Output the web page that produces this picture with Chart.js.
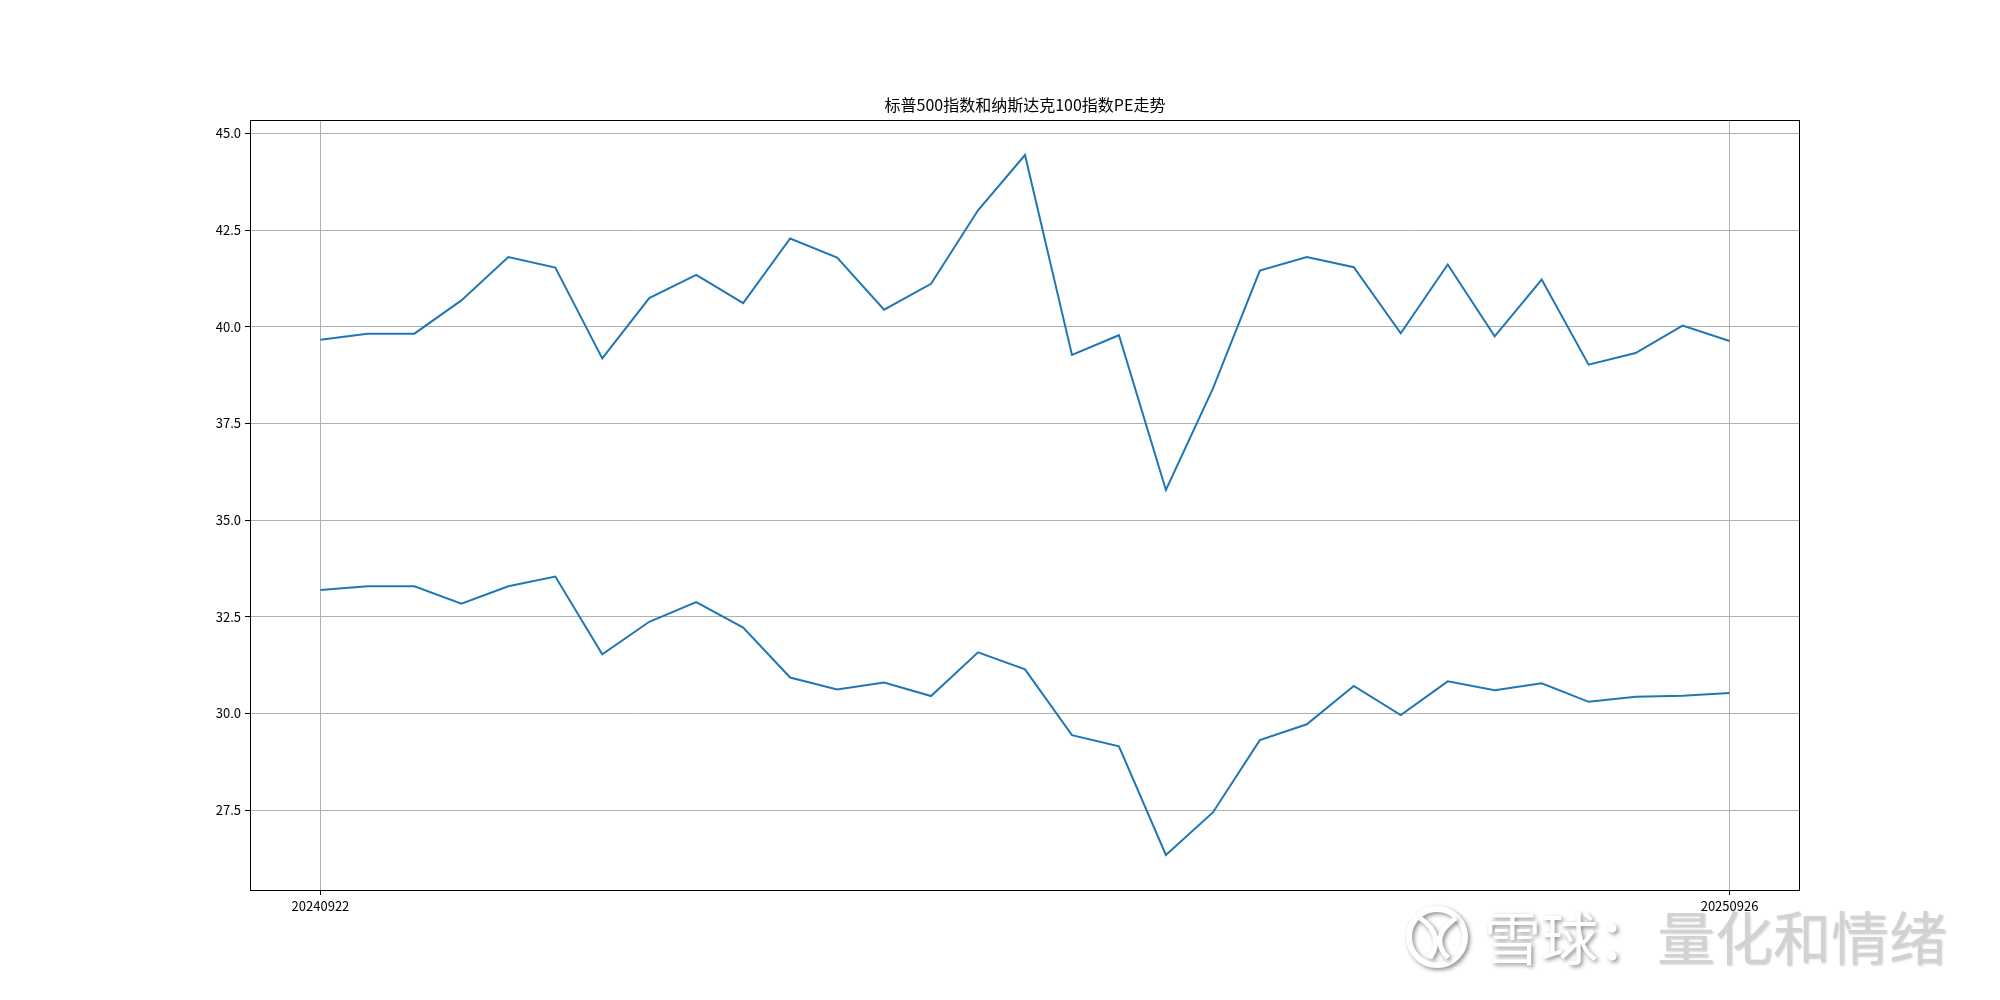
<!DOCTYPE html>
<html lang="zh">
<head>
<meta charset="utf-8">
<title>标普500指数和纳斯达克100指数PE走势</title>
<script src="https://cdn.jsdelivr.net/npm/chart.js@4"></script>
<style>
    html, body { margin: 0; padding: 0; background: #fff; }
    #pe-chart { display: block; }
</style>
</head>
<body>
<canvas id="pe-chart" width="2000" height="1000"></canvas>
<script>
/* =====================================================
   标普500 / 纳斯达克100 PE 走势
   ===================================================== */

// x ticks: only first and last date are labelled on the chart
const xTickLabels = ['20240922', '20250926'];

// upper line (纳斯达克100 PE)
const ndxPE = [
    39.66, 39.82, 39.82, 40.68, 41.80, 41.53, 39.18, 40.74, 41.34, 40.61,
    42.28, 41.79, 40.44, 41.11, 43.01, 44.44, 39.27, 39.78, 35.78, 38.40,
    41.45, 41.80, 41.54, 39.83, 41.61, 39.75, 41.22, 39.02, 39.32, 40.03,
    39.63
];

// lower line (标普500 PE)
const spxPE = [
    33.19, 33.29, 33.29, 32.84, 33.29, 33.54, 31.53, 32.37, 32.88, 32.22,
    30.93, 30.62, 30.80, 30.45, 31.58, 31.14, 29.44, 29.15, 26.34, 27.44,
    29.31, 29.72, 30.71, 29.96, 30.83, 30.60, 30.78, 30.30, 30.43, 30.46,
    30.53
];

const yTickStep = 2.5;

const FONT = '"Noto Sans CJK SC", "Noto Sans", sans-serif';
const LINE_COLOR = '#1f77b4';
const GRID_COLOR = '#b0b0b0';

// matplotlib-like 5% margins around the data
function paddedRange(lo, hi) {
    const pad = (hi - lo) * 0.05;
    return [lo - pad, hi + pad];
}

const allValues = ndxPE.concat(spxPE);
const [yMin, yMax] = paddedRange(Math.min(...allValues), Math.max(...allValues));
const [xMin, xMax] = paddedRange(0, ndxPE.length - 1);

const toPoints = arr => arr.map((v, i) => ({ x: i, y: v }));

// title, frame and the watermark
const decorPlugin = {
    id: 'decor',
    afterDatasetsDraw(chart) {
        const { ctx, chartArea: a } = chart;
        ctx.save();
        ctx.strokeStyle = '#000';
        ctx.lineWidth = 1;
        ctx.strokeRect(a.left + 0.5, a.top + 0.5, a.right - a.left - 1, a.bottom - a.top);

        ctx.fillStyle = '#000';
        ctx.font = '16px ' + FONT;
        ctx.textAlign = 'center';
        ctx.textBaseline = 'alphabetic';
        ctx.fillText('标普500指数和纳斯达克100指数PE走势', (a.left + a.right) / 2, a.top - 9);
        ctx.restore();
    },
    afterDraw(chart) {
        const ctx = chart.ctx;
        ctx.save();

        // logo
        ctx.shadowColor = 'rgba(0,0,0,0.45)';
        ctx.shadowBlur = 4;
        ctx.shadowOffsetX = 2;
        ctx.shadowOffsetY = 2;
        ctx.strokeStyle = '#fff';
        ctx.lineWidth = 6;
        ctx.beginPath();
        ctx.arc(1437, 937, 28, 0, Math.PI * 2);
        ctx.stroke();
        ctx.lineWidth = 5;
        ctx.beginPath();
        ctx.moveTo(1420, 918);
        ctx.quadraticCurveTo(1445, 935, 1430, 958);
        ctx.moveTo(1456, 918);
        ctx.quadraticCurveTo(1428, 937, 1448, 958);
        ctx.stroke();

        ctx.font = '57px ' + FONT;
        ctx.textAlign = 'left';
        ctx.textBaseline = 'middle';
        ctx.fillStyle = '#fff';
        ctx.fillText('雪球：', 1484, 938);

        ctx.shadowColor = 'rgba(0,0,0,0.18)';
        ctx.shadowBlur = 2;
        ctx.shadowOffsetX = 1;
        ctx.shadowOffsetY = 1;
        ctx.fillStyle = '#d2d2d2';
        ctx.font = '58px ' + FONT;
        ctx.fillText('量化和情绪', 1657, 938);
        ctx.restore();
    }
};

const chart = new Chart(document.getElementById('pe-chart'), {
    type: 'line',
    data: {
        datasets: [
            {
                data: toPoints(ndxPE),
                borderColor: LINE_COLOR,
                borderWidth: 2,
                pointRadius: 0,
                tension: 0,
                fill: false
            },
            {
                data: toPoints(spxPE),
                borderColor: LINE_COLOR,
                borderWidth: 2,
                pointRadius: 0,
                tension: 0,
                fill: false
            }
        ]
    },
    options: {
        responsive: false,
        animation: false,
        devicePixelRatio: 1,
        layout: {
            padding: { left: 200, right: 200, top: 120, bottom: 70 }
        },
        plugins: {
            legend: { display: false },
            title: { display: false },
            tooltip: { enabled: false }
        },
        scales: {
            x: {
                type: 'linear',
                min: xMin,
                max: xMax,
                afterFit: s => { s.height = 40; },
                afterBuildTicks: s => {
                    s.ticks = [{ value: 0 }, { value: ndxPE.length - 1 }];
                },
                ticks: {
                    autoSkip: false,
                    maxRotation: 0,
                    color: '#000',
                    padding: 3,
                    font: { family: FONT, size: 13 },
                    callback: v => (v === 0 ? xTickLabels[0] : xTickLabels[1])
                },
                grid: {
                    color: GRID_COLOR,
                    lineWidth: 1,
                    tickColor: '#000',
                    tickLength: 5
                },
                border: { display: false }
            },
            y: {
                type: 'linear',
                min: yMin,
                max: yMax,
                afterFit: s => { s.width = 50; },
                ticks: {
                    stepSize: yTickStep,
                    includeBounds: false,
                    color: '#000',
                    padding: 4,
                    font: { family: FONT, size: 13 },
                    callback: v => v.toFixed(1)
                },
                grid: {
                    color: GRID_COLOR,
                    lineWidth: 1,
                    tickColor: '#000',
                    tickLength: 5
                },
                border: { display: false }
            }
        }
    },
    plugins: [decorPlugin]
});
</script>
</body>
</html>
